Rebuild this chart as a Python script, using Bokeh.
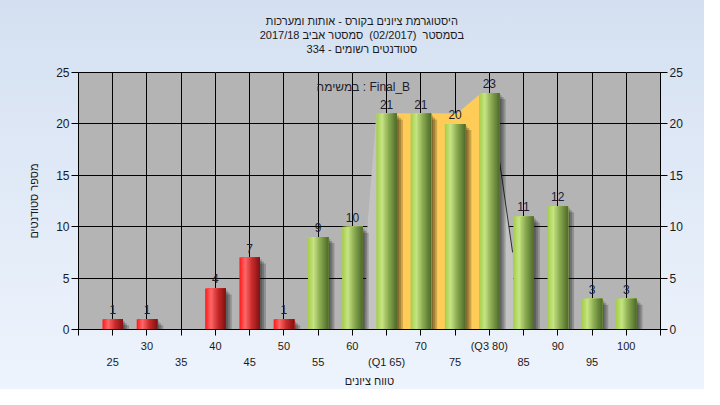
from bokeh.plotting import figure
from bokeh.models import (LinearAxis, FixedTicker, Grid, ColumnDataSource, Title, Label)
from bokeh.embed import file_html
from bokeh.resources import INLINE
from bokeh.core.properties import value

# ---------------- data ----------------
grades = [25, 30, 35, 40, 45, 50, 55, 60, 65, 70, 75, 80, 85, 90, 95, 100]
counts = [1, 1, 0, 4, 7, 1, 9, 10, 21, 21, 20, 23, 11, 12, 3, 3]
pass_mark = 55
top_ticks = [30, 40, 50, 60, 70, 80, 90, 100]
top_labels = ["30", "40", "50", "60", "70", "(Q3 80)", "90", "100"]
low_ticks = [25, 35, 45, 55, 65, 75, 85, 95]
low_labels = ["25", "35", "45", "55", "(Q1 65)", "75", "85", "95"]
y_ticks = [0, 5, 10, 15, 20, 25]
# background distribution area
area_x = [61.8, 62.2, 63.5, 75.3, 78.5, 81.2, 83.4, 83.6]
area_y = [0, 10, 21, 21, 22.8, 17.7, 7.5, 0]
quart_x = [65, 65, 75.3, 78.5, 80, 80]
quart_y = [0, 21, 21, 22.8, 23, 0]
edge_x = [81.2, 83.4]
edge_y = [17.7, 7.5]

title1 = "היסטוגרמת ציונים בקורס - אותות ומערכות"
title2 = "בסמסטר \u00a0(02/2017) \u00a0סמסטר אביב 2017/18"
title3 = "סטודנטים רשומים - 334"
series_name = "במשימה : Final_B"
x_title = "טווח ציונים"
y_title = "מספר סטודנטים"

FONT = "Liberation Sans"
FS = "11px"
BAR_W = 3.0
N_STRIPS = 16
PAD = "\u00a0" * 5   # shifts the centred title block left, onto the page centre

# ---------------- figure ----------------
p = figure(width=704, height=389, x_range=(20, 105), y_range=(0, 25),
           output_backend="svg", toolbar_location=None, title=None,
           x_axis_location=None, y_axis_location=None,
           min_border_left=78, min_border_right=44, min_border_top=72,
           min_border_bottom=58)
p.background_fill_color = "#b4b4b4"
p.border_fill_color = "#e2ebf7"
p.border_fill_alpha = 0
p.styles = {"background": "linear-gradient(to bottom, #d4e0f1, #eef4fd)"}
p.outline_line_color = "black"
p.outline_line_width = 1

all_x_ticks = list(range(20, 106, 5))

# grids
p.add_layout(Grid(dimension=0, ticker=FixedTicker(ticks=all_x_ticks),
                  grid_line_color="black", grid_line_width=1))
p.add_layout(Grid(dimension=1, ticker=FixedTicker(ticks=y_ticks),
                  grid_line_color="black", grid_line_width=1))

# axes
def style_axis(ax, fs=FS):
    ax.major_label_text_font = FONT
    ax.major_label_text_font_size = fs
    ax.major_label_text_color = "#1a1a1a"
    ax.axis_label_text_font = FONT
    ax.axis_label_text_font_size = FS
    ax.axis_label_text_font_style = "normal"
    ax.axis_label_text_color = "#1a1a1a"
    ax.minor_tick_line_color = None
    ax.axis_line_color = "black"
    ax.major_tick_line_color = "black"
    ax.major_tick_in = 0

yl = LinearAxis(ticker=FixedTicker(ticks=y_ticks), axis_label=y_title)
style_axis(yl, "12px")
yl.major_tick_out = 7
yl.major_label_standoff = 2
yl.axis_label_standoff = 13
p.add_layout(yl, "left")

yr = LinearAxis(ticker=FixedTicker(ticks=y_ticks))
style_axis(yr, "12px")
yr.major_tick_out = 7
yr.major_label_standoff = 2
p.add_layout(yr, "right")

xa = LinearAxis(ticker=FixedTicker(ticks=all_x_ticks))
style_axis(xa)
xa.major_tick_out = 6
xa.major_label_standoff = 4
ov = {t: "" for t in all_x_ticks}
ov.update({t: l for t, l in zip(top_ticks, top_labels)})
xa.major_label_overrides = ov
p.add_layout(xa, "below")

xb = LinearAxis(ticker=FixedTicker(ticks=low_ticks), axis_label=x_title)
style_axis(xb)
xb.axis_line_color = None
xb.major_tick_line_color = None
xb.major_tick_out = 0
xb.major_label_standoff = 1
xb.axis_label_standoff = 4
xb.major_label_overrides = {t: l for t, l in zip(low_ticks, low_labels)}
p.add_layout(xb, "below")

# blank spacer between plot and the title block
p.add_layout(Title(text="\u00a0", text_font=FONT, text_font_size="14px",
                   standoff=0), "above")
# three title lines, each centred (innermost first)
for txt in (title3, title2, title1):
    p.add_layout(Title(text=txt + PAD, align="center", text_font=FONT,
                       text_font_size=FS, text_font_style="normal",
                       text_line_height=0.7, standoff=0, text_color="#1a1a1a"),
                 "above")

# background areas
p.patch(area_x, area_y, fill_color="#c3c3c3", line_color=None)
p.patch(quart_x, quart_y, fill_color="#ffcc58", line_color=None)
p.line(edge_x, edge_y, line_color="#303030", line_width=1)

# ---------------- bars ----------------
def lerp(c1, c2, t):
    return tuple(int(round(a + (b - a) * t)) for a, b in zip(c1, c2))

def grad(stops, t):
    for (p0, c0), (p1, c1) in zip(stops[:-1], stops[1:]):
        if p0 <= t <= p1:
            return "#%02x%02x%02x" % lerp(c0, c1, (t - p0) / (p1 - p0))
    return "#%02x%02x%02x" % stops[-1][1]

green_stops = [(0.0, (164, 206, 70)), (0.28, (198, 228, 132)),
               (0.6, (138, 170, 80)), (1.0, (78, 106, 42))]
red_stops = [(0.0, (255, 24, 24)), (0.28, (255, 104, 104)),
             (0.6, (204, 44, 44)), (1.0, (128, 18, 18))]

px_x = 85 / 582.0   # data units per pixel (x)
px_y = 25 / 257.0   # data units per pixel (y)

sh = dict(left=[], right=[], top=[], bottom=[])
for s in (2, 4, 6):
    for g, c in zip(grades, counts):
        if c <= 0:
            continue
        sh["left"].append(g - BAR_W / 2 + s * px_x)
        sh["right"].append(g + BAR_W / 2 + s * px_x)
        sh["top"].append(c - s * px_y)
        sh["bottom"].append(0)
p.quad(source=ColumnDataSource(sh), left="left", right="right", top="top",
       bottom="bottom", fill_color="black", fill_alpha=0.2, line_color=None)

st = dict(left=[], right=[], top=[], bottom=[], color=[])
for g, c in zip(grades, counts):
    if c <= 0:
        continue
    stops = red_stops if g < pass_mark else green_stops
    for k in range(N_STRIPS):
        st["left"].append(g - BAR_W / 2 + k * BAR_W / N_STRIPS)
        st["right"].append(g + BAR_W / 2)
        st["top"].append(c)
        st["bottom"].append(0)
        st["color"].append(grad(stops, (k + 0.5) / N_STRIPS))
p.quad(source=ColumnDataSource(st), left="left", right="right", top="top",
       bottom="bottom", fill_color="color", line_color=None)

lab = dict(x=[g for g, c in zip(grades, counts) if c > 0],
           y=[c for c in counts if c > 0],
           t=[str(c) for c in counts if c > 0])
p.text(source=ColumnDataSource(lab), x="x", y="y", text="t",
       text_font=value(FONT), text_font_size="12px", text_color="#1e1e2e",
       text_align="center", text_baseline="bottom", y_offset=-5)

p.add_layout(Label(x=61.6, y=23.6, text=series_name, text_font=FONT,
                   text_font_size="12px", text_color="#1e1e2e",
                   text_align="center", text_baseline="middle"))

open("out.html", "w").write(file_html(p, INLINE))
